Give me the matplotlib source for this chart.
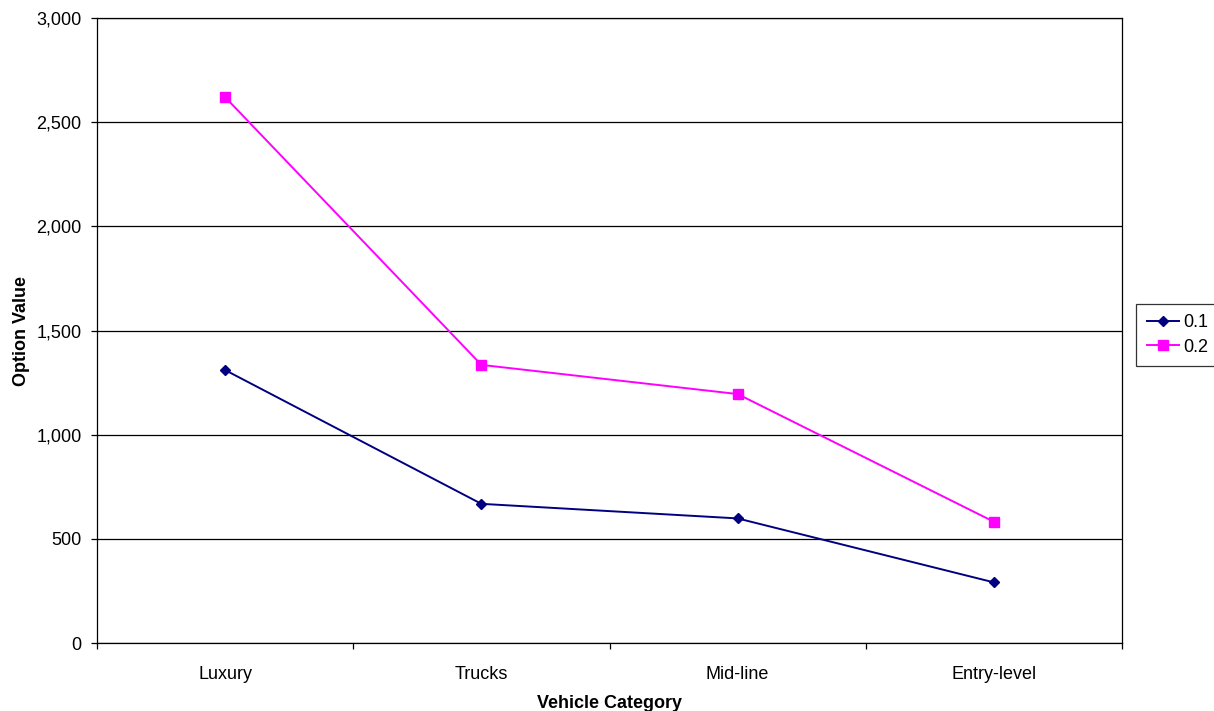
import matplotlib
matplotlib.use("Agg")
import matplotlib.pyplot as plt
from matplotlib.ticker import FuncFormatter, FixedLocator

categories = ["Luxury", "Trucks", "Mid-line", "Entry-level"]
series_01 = [1310, 668, 598, 291]
series_02 = [2620, 1335, 1195, 582]
series_names = ["0.1", "0.2"]

plt.rcParams['font.family'] = ['Liberation Sans', 'DejaVu Sans']

fig = plt.figure(figsize=(12.14, 7.11), dpi=100)
ax = fig.add_axes([97/1214, 1-643/711, (1122-97)/1214, (643-18)/711])

x = list(range(len(categories)))
ax.plot(x, series_01, color="#000080", marker="D", markersize=5.5, linewidth=1.4, label=series_names[0])
ax.plot(x, series_02, color="#FF00FF", marker="s", markersize=7.5, linewidth=1.4, label=series_names[1])

ax.set_xlim(-0.5, len(categories) - 0.5)
ax.set_ylim(0, 3000)
ax.set_yticks(range(0, 3001, 500))
ax.yaxis.set_major_formatter(FuncFormatter(lambda v, p: f"{int(v):,}"))
ax.yaxis.grid(True, color="black", linewidth=0.9)
ax.set_axisbelow(True)

ax.set_xticks(x)
ax.set_xticklabels(categories)
ax.xaxis.set_minor_locator(FixedLocator([i - 0.5 for i in range(len(categories) + 1)]))
ax.tick_params(axis='x', which='major', length=0, pad=16.5, labelsize=13)
ax.tick_params(axis='x', which='minor', length=4.5, direction='out', width=0.9)
ax.tick_params(axis='y', length=4.5, direction='out', width=0.9, labelsize=13, pad=6.5)

for s in ax.spines.values():
    s.set_color("black")
    s.set_linewidth(0.9)

ax.set_xlabel("Vehicle Category", fontsize=13, fontweight="bold", labelpad=9)
ax.set_ylabel("Option Value", fontsize=13, fontweight="bold", labelpad=4.5)

leg = ax.legend(loc="center left", bbox_to_anchor=(1136/1214, 1-335/711), bbox_transform=fig.transFigure,
                frameon=True, fancybox=False, fontsize=13, handlelength=1.8, handletextpad=0.2,
                borderpad=0.6, labelspacing=0.4, borderaxespad=0)
leg.get_frame().set_edgecolor("black")
leg.get_frame().set_linewidth(0.9)

fig.savefig("out.png", dpi=100)
